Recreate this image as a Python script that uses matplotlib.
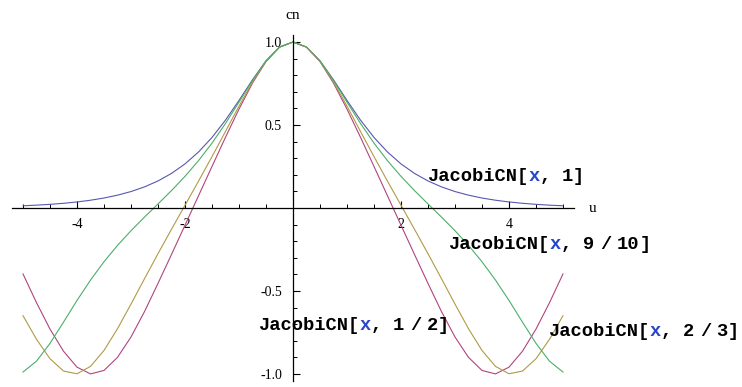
import numpy as np
import matplotlib.pyplot as plt

# sample points along u
u = np.linspace(-5, 5, 41)

# JacobiCN[u, m] values read at every 0.25 in u
cn_m1 = [0.0135, 0.0173, 0.0222, 0.0285, 0.0366, 0.0470, 0.0603, 0.0774, 0.0993, 0.1273,
         0.1631, 0.2085, 0.2658, 0.3374, 0.4251, 0.5295, 0.6481, 0.7724, 0.8868, 0.9695,
         1.0,
         0.9695, 0.8868, 0.7724, 0.6481, 0.5295, 0.4251, 0.3374, 0.2658, 0.2085, 0.1631,
         0.1273, 0.0993, 0.0774, 0.0603, 0.0470, 0.0366, 0.0285, 0.0222, 0.0173, 0.0135]

cn_m910 = [-0.9879, -0.9224, -0.8151, -0.6874, -0.5567, -0.4340, -0.3235, -0.2251, -0.1366, -0.0546,
           0.0247, 0.1052, 0.1909, 0.2852, 0.3910, 0.5094, 0.6379, 0.7685, 0.8859, 0.9695,
           1.0,
           0.9695, 0.8859, 0.7685, 0.6379, 0.5094, 0.3910, 0.2852, 0.1909, 0.1052, 0.0247,
           -0.0546, -0.1366, -0.2251, -0.3235, -0.4340, -0.5567, -0.6874, -0.8151, -0.9224, -0.9879]

cn_m23 = [-0.6485, -0.7906, -0.9078, -0.9818, -0.9983, -0.9539, -0.8578, -0.7268, -0.5786, -0.4258,
          -0.2750, -0.1279, 0.0167, 0.1617, 0.3096, 0.4612, 0.6138, 0.7593, 0.8838, 0.9694,
          1.0,
          0.9694, 0.8838, 0.7593, 0.6138, 0.4612, 0.3096, 0.1617, 0.0167, -0.1279, -0.2750,
          -0.4258, -0.5786, -0.7268, -0.8578, -0.9539, -0.9983, -0.9818, -0.9078, -0.7906, -0.6485]

cn_m12 = [-0.3970, -0.5702, -0.7293, -0.8623, -0.9585, -0.9991, -0.9783, -0.8994, -0.7767, -0.6239,
          -0.4539, -0.2796, -0.1034, 0.0736, 0.2503, 0.4262, 0.5959, 0.7526, 0.8823, 0.9692,
          1.0,
          0.9692, 0.8823, 0.7526, 0.5959, 0.4262, 0.2503, 0.0736, -0.1034, -0.2796, -0.4539,
          -0.6239, -0.7767, -0.8994, -0.9783, -0.9991, -0.9585, -0.8623, -0.7293, -0.5702, -0.3970]

x_major = [-4, -2, 2, 4]
x_major_labels = ["-4", "-2", "2", "4"]
y_major = [-1.0, -0.5, 0.5, 1.0]
y_major_labels = ["-1.0", "-0.5", "0.5", "1.0"]

# curve labels: (numerator, denominator, anchor u, anchor cn)
labels = [("1", None, 2.48, 0.187),
          ("9", "10", 2.87, -0.217),
          ("1", "2", -0.65, -0.705),
          ("2", "3", 4.72, -0.741)]

fig = plt.figure(figsize=(7.42, 3.87), dpi=100)
ax = fig.add_axes([0, 0, 1, 1])
ax.set_xlim(-5.426, 8.315)
ax.set_ylim(-1.078, 1.253)

lw = 0.8
ax.plot(u, cn_m1, color="#5858b0", lw=lw)
ax.plot(u, cn_m12, color="#b0447e", lw=lw)
ax.plot(u, cn_m23, color="#b09a46", lw=lw)
ax.plot(u, cn_m910, color="#4cae68", lw=lw)

# axes crossing at the origin, Mathematica style
for side in ("top", "right"):
    ax.spines[side].set_visible(False)
ax.spines["left"].set_position(("data", 0))
ax.spines["bottom"].set_position(("data", 0))
ax.spines["bottom"].set_bounds(-5.2, 5.2)
ax.spines["left"].set_bounds(-1.04, 1.04)
for side in ("left", "bottom"):
    ax.spines[side].set_linewidth(0.9)

ax.set_xticks(x_major)
ax.set_xticklabels(x_major_labels)
ax.set_xticks(np.arange(-5, 5.01, 0.5), minor=True)
ax.set_yticks(y_major)
ax.set_yticklabels(y_major_labels)
ax.set_yticks(np.arange(-1.0, 1.01, 0.1), minor=True)
ax.tick_params(which="major", direction="in", length=5, width=0.8,
               labelsize=10, pad=7)
ax.tick_params(axis="y", which="major", pad=8)
ax.tick_params(which="minor", direction="in", length=3, width=0.7)
for lab in ax.get_xticklabels() + ax.get_yticklabels():
    lab.set_family("Liberation Serif")

ax.text(0, 1.16, "cn", ha="center", va="center", family="Liberation Serif", size=11)
ax.text(5.54, 0.0, "u", ha="center", va="center", family="Liberation Serif", size=11)

# "JacobiCN[x, m]" labels with a blue x; monospace, so offsets are in char widths
fs = 13.5
cw = 0.6 * fs
style = dict(family="Liberation Mono", weight="bold", size=fs,
             ha="left", va="center", textcoords="offset points")


def put(s, lx, ly, col, color="black"):
    ax.annotate(s, xy=(lx, ly), xytext=(col * cw, 0), color=color, **style)


for num, den, lx, ly in labels:
    put("JacobiCN[", lx, ly, 0)
    put("x", lx, ly, 9, color="#2846c8")
    put(",", lx, ly, 10)
    put(num, lx, ly, 12)
    if den is None:
        put("]", lx, ly, 13)
    else:
        # fraction set with half-width gaps around the slash
        put("/", lx, ly, 13.5)
        put(den, lx, ly, 15)
        put("]", lx, ly, 15 + len(den))

fig.savefig("out.png", dpi=100)
